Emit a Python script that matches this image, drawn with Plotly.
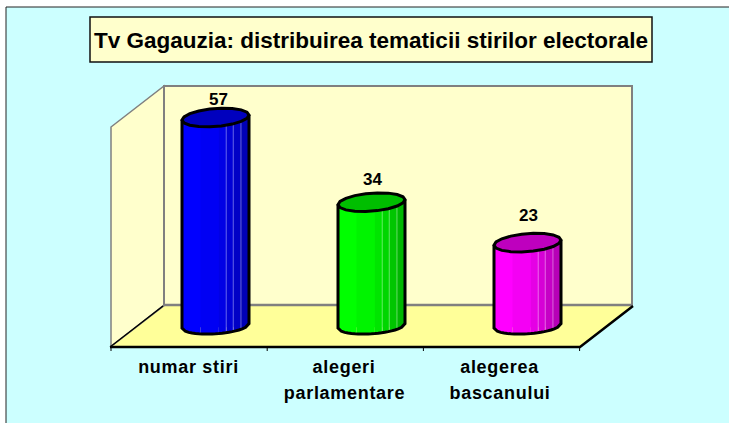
import math
import plotly.graph_objects as go

# ---- data ----
categories = ["numar stiri", "alegeri\nparlamentare", "alegerea\nbascanului"]
values = [57, 34, 23]
title_text = "Tv Gagauzia: distribuirea tematicii stirilor electorale"

# ---- style ----
bright = ["#0000FF", "#00FF00", "#FF00FF"]
top_col = ["#0000BE", "#00BE00", "#BE00BE"]
band_edges = [-1, -0.45, 0.1, 0.32, 0.53, 0.76, 1]
band_level = [1.0, 0.96, 0.90, 0.84, 0.78, 0.72]
light_lines = [0.32, 0.53, 0.76]
label_dy = [18, 23, 27]
label_dx = [3, 1, 1]

W, H = 729, 423
X0, DX = 215.5, 156.0     # px of category 0, px per category
Y0, DY = 327.3, 3.68      # px of value 0, px per unit
HALF = 33.5


def dx(p):
    return (p - X0) / DX


def dy(p):
    return (Y0 - p) / DY


def path(points):
    return "M " + " L ".join(f"{dx(a):.5f},{dy(b):.5f}" for a, b in points) + " Z"


def open_path(points):
    return "M " + " L ".join(f"{dx(a):.5f},{dy(b):.5f}" for a, b in points)


def scale(col, f):
    r, g, b = int(col[1:3], 16), int(col[3:5], 16), int(col[5:7], 16)
    return f"rgb({int(r*f)},{int(g*f)},{int(b*f)})"


def ring(cx, cy, a=HALF, b=9.0, s=2.5, n=18):
    return [(cx + a * math.cos(2 * math.pi * k / n),
             cy - b * math.sin(2 * math.pi * k / n) - s * math.cos(2 * math.pi * k / n))
            for k in range(n)]


def low(cx, cy, t, a=HALF, b=8.0, s=2.2):
    return (cx + a * t, cy - s * t + b * math.sqrt(max(0, 1 - t * t)))


shapes = []
GREY = "#808080"
# chart area
shapes.append(dict(type="rect", x0=dx(6), x1=dx(W + 5), y0=dy(7), y1=dy(H + 5),
                   fillcolor="#CCFFFF", line=dict(color="#222222", width=1), layer="below"))
# title box
shapes.append(dict(type="rect", x0=dx(90), x1=dx(652), y0=dy(17), y1=dy(62),
                   fillcolor="#FFFFCC", line=dict(color="#111111", width=1.5), layer="below"))
# walls and floor
shapes.append(dict(type="path", path=path([(111, 127), (164, 86), (164, 305), (111, 347)]),
                   fillcolor="#FFFFCC", line=dict(color=GREY, width=1.5), layer="below"))
shapes.append(dict(type="rect", x0=dx(164), x1=dx(632), y0=dy(86), y1=dy(305),
                   fillcolor="#FFFFCC", line=dict(color=GREY, width=2), layer="below"))
shapes.append(dict(type="path", path=path([(111, 347), (164, 306), (633, 306), (580, 347)]),
                   fillcolor="#FFFF99", line=dict(color=GREY, width=0), layer="below"))
shapes.append(dict(type="line", x0=dx(164), x1=dx(632), y0=dy(305), y1=dy(305),
                   line=dict(color=GREY, width=2.5), layer="below"))
shapes.append(dict(type="line", x0=dx(113), x1=dx(165), y0=dy(345), y1=dy(305),
                   line=dict(color=GREY, width=1.5), layer="below"))
shapes.append(dict(type="line", x0=dx(110), x1=dx(163), y0=dy(347), y1=dy(306),
                   line=dict(color="#000000", width=1.5), layer="below"))
shapes.append(dict(type="path", path=open_path([(110, 347), (580, 347), (633, 306)]),
                   line=dict(color="#000000", width=2.5), layer="below"))
for k in range(4):
    xt = 111 + 156.2 * k
    shapes.append(dict(type="line", x0=dx(xt), x1=dx(xt), y0=dy(347), y1=dy(351),
                       line=dict(color="#000000", width=1), layer="below"))

# cylinders, all positioned from the values through the data axes
for i, v in enumerate(values):
    cx = X0 + DX * i
    ctop = Y0 - DY * v
    cbot = Y0 - 1.5
    for j in range(len(band_level)):
        t0, t1 = band_edges[j], band_edges[j + 1]
        ts = [t0 + (t1 - t0) * q / 4 for q in range(5)]
        lower = [low(cx, cbot, t) for t in ts]
        pts = [(cx + HALF * t0, ctop)] + lower + [(cx + HALF * t1, ctop)]
        shapes.append(dict(type="path", path=path(pts),
                           fillcolor=scale(bright[i], band_level[j]),
                           line=dict(width=0), layer="above"))
    for t in light_lines:
        p = low(cx, cbot, t)
        shapes.append(dict(type="line", x0=dx(p[0]), x1=dx(p[0]), y0=dy(ctop), y1=dy(p[1]),
                           line=dict(color="rgba(255,255,255,0.4)", width=1), layer="above"))
    ts = [-1 + q / 10 for q in range(21)]
    outline = [(cx - HALF, ctop + 2.5)] + [low(cx, cbot, t) for t in ts] + [(cx + HALF, ctop - 2.5)]
    shapes.append(dict(type="path", path=open_path(outline),
                       line=dict(color="#000000", width=3), layer="above"))
    shapes.append(dict(type="path", path=path(ring(cx, ctop)),
                       fillcolor=top_col[i], line=dict(color="#000000", width=3), layer="above"))

annotations = []
for i, v in enumerate(values):
    annotations.append(dict(x=i, y=v, xref="x", yref="y", text=str(v), showarrow=False,
                            xshift=label_dx[i], yshift=label_dy[i],
                            font=dict(family="Liberation Sans", size=17, color="#000000", weight=700)))
for i, cat in enumerate(categories):
    for k, line in enumerate(cat.split("\n")):
        annotations.append(dict(x=i - 27.5 / DX, y=dy(367 + 26 * k), xref="x", yref="y",
                                text=line, showarrow=False,
                                font=dict(family="Liberation Sans", size=18, color="#000000", weight=700)))

fig = go.Figure(go.Bar(x=list(range(len(values))), y=values, width=0.40,
                       marker=dict(color=bright, line=dict(width=0)), hoverinfo="skip"))
fig.update_layout(
    width=W, height=H, margin=dict(l=0, r=0, t=0, b=0),
    paper_bgcolor="#FFFFFF", plot_bgcolor="rgba(0,0,0,0)", showlegend=False,
    xaxis=dict(range=[dx(0), dx(W)], visible=False, fixedrange=True),
    yaxis=dict(range=[dy(H), dy(0)], visible=False, fixedrange=True),
    shapes=shapes, annotations=annotations,
    title=dict(text=title_text, x=371 / W, y=1 - 40 / H, xanchor="center", yanchor="middle",
               font=dict(family="Liberation Sans", size=22.5, color="#000000", weight=700)),
)
fig.write_html("out.html", config=dict(displayModeBar=False),
               post_script=("document.body.style.margin='0';"
                            "document.documentElement.style.overflow='hidden';"
                            "document.querySelectorAll('.annotation-text').forEach(function(t,i){"
                            "if(i>=3){t.style.letterSpacing='0.7px';}});"))
